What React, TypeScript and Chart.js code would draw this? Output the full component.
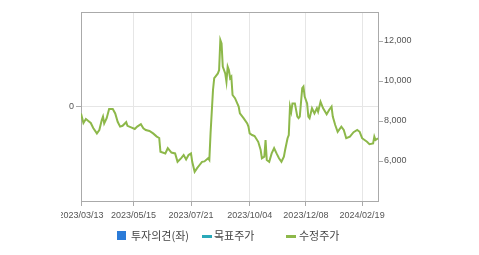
import React, { useEffect, useRef } from "react";
import { Chart, registerables } from "chart.js";

Chart.register(...registerables);

// trading-day index of each sampled point (0 = 2023/03/13)
const dayIndex = [0,2,4,6,8,10,13,15,17,18,19,21,23,26,28,30,32,34,37,38,41,44,46,49,51,53,56,59,62,64,65,69,71,74,77,79,82,84,86,88,90,91,93,95,97,99,101,104,105,106,108,109,110,112,113,114,115,116,118,119,120,121,122,123,124,126,129,130,133,136,137,138,140,142,145,147,148,150,151,152,154,156,158,160,162,164,166,167,169,170,171,172,173,175,177,178,179,181,182,183,185,186,187,189,191,193,194,196,198,201,203,205,206,208,210,213,215,217,220,223,226,228,230,234,236,239,240,241,243];

// 수정주가 (adjusted price)
const adjPrice = [8380,7900,8100,8000,7900,7650,7380,7550,8050,8220,7880,8140,8600,8600,8380,7960,7720,7760,7940,7760,7680,7600,7720,7840,7640,7550,7500,7380,7220,7150,6460,6380,6640,6420,6380,5960,6140,6300,6080,6300,6380,5960,5460,5640,5800,5960,5980,6140,6050,7380,9550,10140,10220,10380,10550,12050,11880,10720,10380,9960,10720,10550,10140,10220,9300,9140,8720,8380,8140,7880,7720,7380,7300,7250,6960,6550,6140,6220,7050,6050,5960,6380,6640,6380,6140,5960,6220,6550,7140,7300,8720,8460,8880,8880,8220,8140,8220,9640,9720,9220,8880,8220,8140,8640,8380,8640,8460,8960,8650,8340,8550,8720,8220,7800,7460,7720,7550,7140,7220,7440,7550,7460,7140,6960,6840,6880,7220,7050,7140];

// 목표주가 (target price) and 투자의견 (opinion) – none shown
const targetPrice: number[] = [];
const opinion: number[] = [];

const tickIndex = [0, 43, 90, 138, 184, 230];
const tickLabels = ["2023/03/13", "2023/05/15", "2023/07/21", "2023/10/04", "2023/12/08", "2024/02/19"];
const rightTicks = [6000, 8000, 10000, 12000];
const leftTicks = [0];

const seriesNames = ["투자의견(좌)", "목표주가", "수정주가"];
const seriesColors = ["#2b7bd8", "#2aa9b9", "#8db84a"];

const tickFont = { family: "'Liberation Sans', Arial, sans-serif", size: 9 };
const tickColor = "#555";
const axisColor = "#aaa";
const gridColor = "#e6e6e6";

const topBorder = {
  id: "topBorder",
  afterDraw(chart: any) {
    const { ctx, chartArea } = chart;
    ctx.save();
    ctx.strokeStyle = axisColor;
    ctx.lineWidth = 1;
    ctx.beginPath();
    ctx.moveTo(chartArea.left, chartArea.top + 0.5);
    ctx.lineTo(chartArea.right, chartArea.top + 0.5);
    ctx.stroke();
    ctx.restore();
  },
};

export default function App() {
  const ref = useRef<HTMLCanvasElement>(null);

  useEffect(() => {
    if (!ref.current) return;
    const chart = new Chart(ref.current, {
      type: "line",
      data: {
        datasets: [
          {
            type: "bar",
            label: seriesNames[0],
            data: opinion.map((v, i) => ({ x: dayIndex[i], y: v })),
            backgroundColor: seriesColors[0],
            yAxisID: "yL",
          } as any,
          {
            label: seriesNames[1],
            data: targetPrice.map((v, i) => ({ x: dayIndex[i], y: v })),
            borderColor: seriesColors[1],
            borderWidth: 2,
            pointRadius: 0,
            yAxisID: "yR",
          },
          {
            label: seriesNames[2],
            data: adjPrice.map((v, i) => ({ x: dayIndex[i], y: v })),
            borderColor: seriesColors[2],
            borderWidth: 2,
            pointRadius: 0,
            tension: 0,
            yAxisID: "yR",
          },
        ],
      },
      options: {
        responsive: false,
        animation: false,
        layout: { padding: { top: 12, left: 0, right: 0, bottom: 0 }, autoPadding: false } as any,
        plugins: { legend: { display: false }, tooltip: { enabled: false } },
        scales: {
          x: {
            type: "linear",
            min: 0,
            max: 243,
            offset: false,
            afterBuildTicks: (s: any) => {
              s.ticks = tickIndex.map((v) => ({ value: v }));
            },
            afterFit: (s: any) => {
              s.height = 54;
              s.paddingLeft = 0;
              s.paddingRight = 0;
            },
            ticks: {
              autoSkip: false,
              maxRotation: 0,
              padding: 4,
              color: tickColor,
              font: tickFont,
              callback: (v: any) => tickLabels[tickIndex.indexOf(Number(v))] ?? "",
            },
            grid: { offset: false, color: gridColor, tickColor: axisColor, tickLength: 5 },
            border: { color: axisColor },
          },
          yL: {
            type: "linear",
            position: "left",
            min: -1,
            max: 1,
            afterBuildTicks: (s: any) => {
              s.ticks = leftTicks.map((v) => ({ value: v }));
            },
            afterFit: (s: any) => {
              s.width = 20;
              s.paddingTop = 0;
              s.paddingBottom = 0;
            },
            ticks: { padding: 2, color: tickColor, font: tickFont },
            grid: { color: gridColor, tickColor: axisColor, tickLength: 5 },
            border: { color: axisColor },
          },
          yR: {
            type: "linear",
            position: "right",
            min: 4000,
            max: 13450,
            afterBuildTicks: (s: any) => {
              s.ticks = rightTicks.map((v) => ({ value: v }));
            },
            afterFit: (s: any) => {
              s.width = 101;
              s.paddingTop = 0;
              s.paddingBottom = 0;
            },
            ticks: {
              padding: 1,
              color: tickColor,
              font: tickFont,
              callback: (v: any) => Number(v).toLocaleString("en-US"),
            },
            grid: { drawOnChartArea: false, tickColor: axisColor, tickLength: 5 },
            border: { color: axisColor },
          },
        },
      },
      plugins: [topBorder],
    });
    return () => chart.destroy();
  }, []);

  const legendText: React.CSSProperties = {
    position: "absolute",
    top: 229,
    height: 13,
    lineHeight: "13px",
    fontSize: 11,
    fontFamily: "'Noto Sans CJK KR', sans-serif",
    color: "#444",
    whiteSpace: "nowrap",
  };

  return (
    <div style={{ position: "fixed", left: 0, top: 0, width: 479, height: 255, background: "#fff", overflow: "hidden" }}>
      <canvas ref={ref} width={418} height={255} style={{ position: "absolute", left: 61, top: 0, width: 418, height: 255 }} />
      <div style={{ position: "absolute", left: 117, top: 231, width: 9, height: 9, background: seriesColors[0] }} />
      <div style={{ ...legendText, left: 131 }}>{seriesNames[0]}</div>
      <div style={{ position: "absolute", left: 202, top: 235, width: 10, height: 3, background: seriesColors[1] }} />
      <div style={{ ...legendText, left: 214 }}>{seriesNames[1]}</div>
      <div style={{ position: "absolute", left: 286, top: 235, width: 10, height: 3, background: seriesColors[2] }} />
      <div style={{ ...legendText, left: 299 }}>{seriesNames[2]}</div>
    </div>
  );
}
